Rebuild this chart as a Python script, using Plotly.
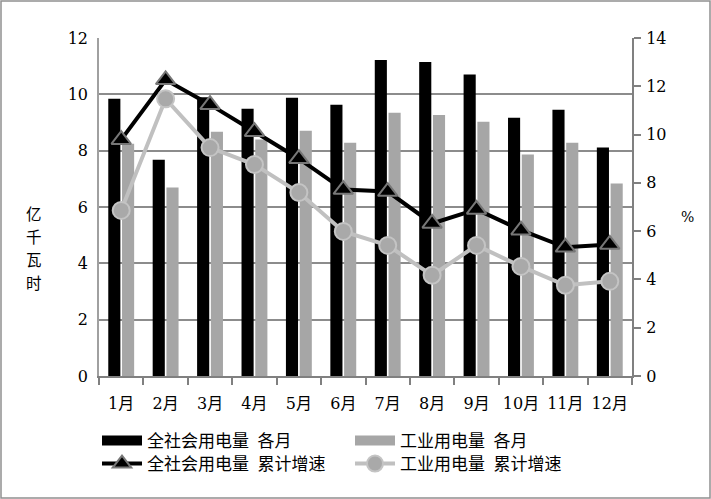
import plotly.graph_objects as go

months = ["1月", "2月", "3月", "4月", "5月", "6月", "7月", "8月", "9月", "10月", "11月", "12月"]
total_monthly = [9.84, 7.68, 9.9, 9.49, 9.88, 9.63, 11.22, 11.15, 10.70, 9.17, 9.45, 8.11]
industry_monthly = [8.25, 6.69, 8.67, 8.4, 8.71, 8.28, 9.35, 9.27, 9.03, 7.86, 8.28, 6.83]
total_growth = [9.79, 12.27, 11.24, 10.12, 9.0, 7.72, 7.64, 6.32, 6.9, 6.04, 5.33, 5.45]
industry_growth = [6.86, 11.48, 9.46, 8.76, 7.6, 5.99, 5.41, 4.17, 5.41, 4.54, 3.76, 3.92]
left_ticks = [0, 2, 4, 6, 8, 10, 12]
right_ticks = [0, 2, 4, 6, 8, 10, 12, 14]
names = ["全社会用电量\u2002各月", "工业用电量\u2002各月",
         "全社会用电量\u2002累计增速", "工业用电量\u2002累计增速"]
y_title_chars = ["亿", "千", "瓦", "时"]

FONT = "DejaVu Serif, Noto Sans CJK SC, serif"
FONT_CJK = "Noto Sans CJK SC"

fig = go.Figure()
fig.add_trace(go.Bar(x=months, y=total_monthly, name=names[0], showlegend=False,
                     marker=dict(color="#000000", line=dict(width=0))))
fig.add_trace(go.Bar(x=months, y=industry_monthly, name=names[1], showlegend=False,
                     marker=dict(color="#a6a6a6", line=dict(width=0))))
# legend entries for the bar series (wide swatch like the original)
fig.add_trace(go.Scatter(x=[None], y=[None], name=names[0], mode="lines",
                         line=dict(color="#000000", width=14), legend="legend",
                         hoverinfo="skip"))
fig.add_trace(go.Scatter(x=[None], y=[None], name=names[1], mode="lines",
                         line=dict(color="#a6a6a6", width=14), legend="legend",
                         hoverinfo="skip"))
fig.add_trace(go.Scatter(x=months, y=total_growth, name=names[2], yaxis="y2",
                         mode="lines+markers", line=dict(color="#000000", width=4),
                         marker=dict(symbol="triangle-up", size=17, color="#000000",
                                     line=dict(color="#777777", width=2)),
                         legend="legend2"))
fig.add_trace(go.Scatter(x=months, y=industry_growth, name=names[3], yaxis="y2",
                         mode="lines+markers", line=dict(color="#c0c0c0", width=4),
                         marker=dict(symbol="circle", size=17, color="#a9a9a9",
                                     line=dict(color="#c4c4c4", width=2)),
                         legend="legend2"))

L, R, T, B = 99, 79, 38, 123
PW, PH = 711 - L - R, 499 - T - B

fig.update_layout(
    width=711, height=499,
    margin=dict(l=L, r=R, t=T, b=B, autoexpand=False),
    paper_bgcolor="white", plot_bgcolor="white",
    font=dict(family=FONT, size=16, color="#000000"),
    barmode="group", bargap=0.38, bargroupgap=0.12,
    xaxis=dict(type="category", range=[-0.5, len(months) - 0.5],
               showline=True, linecolor="#808080", linewidth=2,
               ticks="outside", tickson="boundaries", ticklen=7, tickcolor="#808080",
               tickwidth=2, showgrid=False, tickangle=0, automargin=False,
               ticklabelstandoff=12, tickfont=dict(size=16, family=FONT)),
    yaxis=dict(range=[0, 12], tickvals=left_ticks, showgrid=True, gridcolor="#8c8c8c",
               gridwidth=1.5, showline=True, linecolor="#a0a0a0", linewidth=1.5,
               zeroline=False, ticks="", automargin=False, ticklabelstandoff=6,
               tickfont=dict(size=16, family=FONT)),
    yaxis2=dict(range=[0, 14], tickvals=right_ticks, overlaying="y", side="right",
                showgrid=False, showline=True, linecolor="#808080", linewidth=2,
                ticks="outside", ticklen=7, tickcolor="#808080", tickwidth=2,
                zeroline=False, automargin=False, ticklabelstandoff=2,
                tickfont=dict(size=16, family=FONT)),
    legend=dict(orientation="h", xref="container", yref="container",
                x=97 / 711, y=1 - 423 / 499, xanchor="left", yanchor="top",
                entrywidth=198, entrywidthmode="pixels", bgcolor="rgba(0,0,0,0)",
                font=dict(size=17, family=FONT_CJK), itemwidth=40, traceorder="normal"),
    legend2=dict(orientation="h", xref="container", yref="container",
                 x=97 / 711, y=1 - 446 / 499, xanchor="left", yanchor="top",
                 entrywidth=198, entrywidthmode="pixels", bgcolor="rgba(0,0,0,0)",
                 font=dict(size=17, family=FONT_CJK), itemwidth=40, traceorder="normal"),
    showlegend=True,
)

for i, ch in enumerate(y_title_chars):
    fig.add_annotation(text=ch, xref="paper", yref="paper",
                       x=-130 / PW * 0.5, y=(376 - (213 + 23 * i)) / PH,
                       xanchor="center", yanchor="middle", showarrow=False,
                       borderpad=0, borderwidth=0,
                       font=dict(size=15.5, family=FONT_CJK))
fig.add_annotation(text="%", xref="paper", yref="paper", x=1.105, y=0.47,
                   xanchor="center", yanchor="middle", showarrow=False,
                   font=dict(size=14, family=FONT))
fig.add_shape(type="rect", xref="paper", yref="paper",
              x0=-(L - 1) / PW, x1=1 + (R - 1) / PW, y0=-(B - 1) / PH, y1=1 + (T - 1) / PH,
              line=dict(color="#909090", width=1.5), layer="below")

fig.write_html("out.html", config={"displayModeBar": False},
               post_script="document.body.style.margin='0';")
